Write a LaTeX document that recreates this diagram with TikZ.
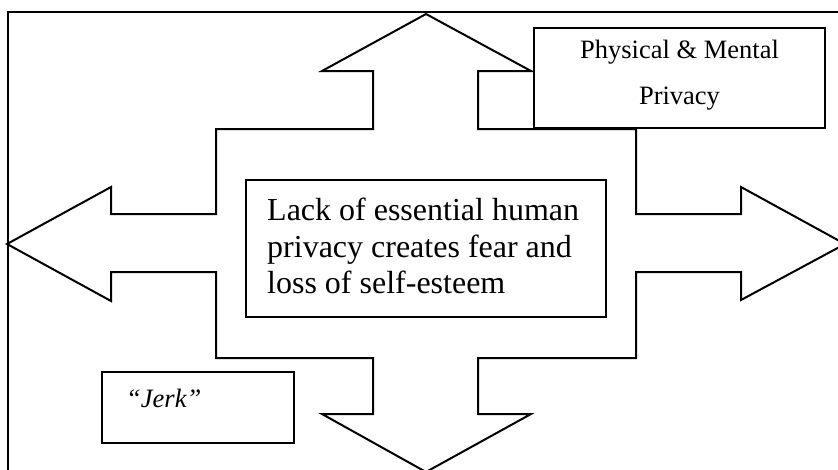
\documentclass[tikz,border=0pt]{standalone}
\usepackage{fontspec}
\setmainfont{Liberation Serif}
\begin{document}
\begin{tikzpicture}[x=1pt,y=-1pt,
  outline/.style={draw=black,line width=2pt,line join=miter},
  box/.style={outline,fill=white,rectangle,inner sep=0pt},
  bigtext/.style={font=\fontsize{32}{36.5}\selectfont,inner sep=0pt,align=left},
  smalltext/.style={font=\fontsize{26.5}{46}\selectfont,inner sep=0pt,align=center},
  jerktext/.style={font=\fontsize{26.5}{30}\selectfont\itshape,inner sep=0pt}]
\useasboundingbox (0,0) rectangle (838,469);
\clip (0,0) rectangle (838,469);
% page frame
\draw[outline] (8,12) rectangle (846,480);
% four-way arrow
\draw[outline,fill=white]
  (426,14) -- (531,71) -- (478,71) -- (478,129) -- (636,129) -- (636,214)
  -- (741,214) -- (741,187) -- (845,244) -- (741,300) -- (741,272)
  -- (636,272) -- (636,358) -- (478,358) -- (478,414) -- (531,414)
  -- (426,472) -- (322,414) -- (373,414) -- (373,358) -- (216,358)
  -- (216,272) -- (111,272) -- (111,301) -- (7,244) -- (111,187)
  -- (111,214) -- (216,214) -- (216,129) -- (373,129) -- (373,71)
  -- (322,71) -- cycle;
% central statement
\node[box,minimum width=360pt,minimum height=137pt] (core) at (426,248.5) {};
\node[bigtext,anchor=north west] (coretext) at (267,198)
  {Lack of essential human\\privacy creates fear and\\loss of self-esteem};
% upper right label
\node[box,minimum width=291pt,minimum height=100pt] (phys) at (679.5,78) {};
\node[smalltext,yshift=3pt] (physlabel) at (phys.center) {Physical \& Mental\\Privacy};
% lower left label
\node[box,minimum width=192pt,minimum height=71pt] (jerk) at (198,407.5) {};
\node[jerktext,anchor=base west] (jerklabel) at (126,407) {``Jerk''};
\end{tikzpicture}
\end{document}
